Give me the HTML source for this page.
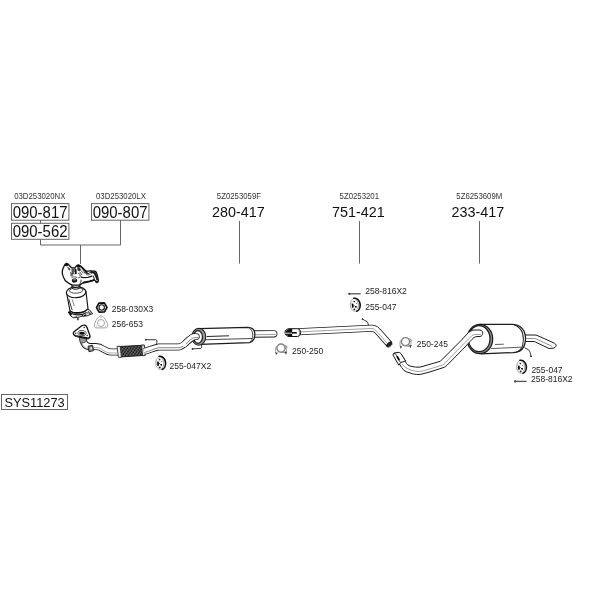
<!DOCTYPE html>
<html><head><meta charset="utf-8">
<style>
html,body{margin:0;padding:0;background:#fff;}
svg{display:block;filter:grayscale(1);}
text{font-family:"Liberation Sans",sans-serif;fill:#1a1a1a;}
.s{font-size:8.5px;fill:#333;}
.b{font-size:15.4px;fill:#111;}
.m{font-size:8.5px;fill:#222;}
.ln{stroke:#666;stroke-width:1;fill:none;}
.bx{stroke:#666;stroke-width:1;fill:#fff;}
.p{stroke:#222;stroke-width:1;fill:#fff;stroke-linejoin:round;stroke-linecap:round;}
.pn{stroke:#222;stroke-width:0.8;fill:none;stroke-linejoin:round;stroke-linecap:round;}
</style></head><body>
<svg width="600" height="600" viewBox="0 0 600 600">
<rect width="600" height="600" fill="#fff"/>
<!-- LABELS-TOP -->
<text class="s" textLength="51.2" lengthAdjust="spacingAndGlyphs" x="14.2" y="198.7">03D253020NX</text>
<text class="s" textLength="49.9" lengthAdjust="spacingAndGlyphs" x="96" y="198.7">03D253020LX</text>
<text class="s" textLength="44.2" lengthAdjust="spacingAndGlyphs" x="216.8" y="198.7">5Z0253059F</text>
<text class="s" textLength="39.4" lengthAdjust="spacingAndGlyphs" x="339.6" y="198.7">5Z0253201</text>
<text class="s" textLength="45.9" lengthAdjust="spacingAndGlyphs" x="456.3" y="198.7">5Z6253609M</text>
<rect class="bx" x="11.5" y="203.6" width="57.4" height="16.6"/>
<rect class="bx" x="11.5" y="223.3" width="57.4" height="16"/>
<rect class="bx" x="91.5" y="203.6" width="57.4" height="16.6"/>
<text class="b" style="font-size:16px" textLength="54.8" lengthAdjust="spacingAndGlyphs" x="12.7" y="217.5">090-817</text>
<text class="b" style="font-size:16px" textLength="54.8" lengthAdjust="spacingAndGlyphs" x="12.7" y="236.9">090-562</text>
<text class="b" style="font-size:16px" textLength="54.8" lengthAdjust="spacingAndGlyphs" x="92.7" y="217.5">090-807</text>
<text class="b" textLength="52.7" lengthAdjust="spacingAndGlyphs" x="212" y="217.3">280-417</text>
<text class="b" textLength="52.7" lengthAdjust="spacingAndGlyphs" x="332" y="217.3">751-421</text>
<text class="b" textLength="52.7" lengthAdjust="spacingAndGlyphs" x="451.5" y="217.3">233-417</text>
<path class="ln" d="M40.5 220V223.5M40.5 239.3V245H120.5V220M80.5 245V264"/>
<path class="ln" d="M239.5 221V263.6M359.5 221V263.6M479.5 221V263.6"/>
<!-- LABELS-SMALL -->
<text class="m" x="111.7" y="312.3">258-030X3</text>
<text class="m" x="111.7" y="327">256-653</text>
<text class="m" x="169.6" y="368.8">255-047X2</text>
<text class="m" x="292" y="354.2">250-250</text>
<text class="m" x="365.2" y="293.8">258-816X2</text>
<text class="m" x="365.2" y="310.2">255-047</text>
<text class="m" x="416.7" y="346.9">250-245</text>
<text class="m" x="531.4" y="372.8">255-047</text>
<text class="m" x="531" y="381.5">258-816X2</text>
<rect class="bx" x="1.5" y="394.5" width="66" height="15"/>
<text x="4.4" y="406.5" style="font-size:12.8px;fill:#111">SYS11273</text>

<defs>
<g id="hanger">
  <ellipse cx="0" cy="0" rx="5" ry="6.7" fill="#fff" stroke="#8a8a8a" stroke-width="0.6"/>
  <path d="M-1.4 -6.5C2.6 -7 4.9 -3 5 0C5.1 3 3.6 6 1.6 6.5" fill="none" stroke="#111" stroke-width="1.6" stroke-linecap="round"/>
  <path d="M1.4 -4.6C2.8 -3 3.2 -1 3.2 0.6C3.2 2.4 2.8 3.8 2 4.8" fill="none" stroke="#555" stroke-width="0.55"/>
  <path d="M-3.8 -3C-4.4 -1 -4.4 1.6 -3.8 3.6" fill="none" stroke="#999" stroke-width="0.5"/>
  <path d="M-3.5 -1.4L-1.8 -1.1L-1.5 2.6L-3.2 3Z" fill="#000"/>
  <path d="M-1.7 0.2L-0.4 0.9L-1.7 1.4Z" fill="#111"/>
  <path d="M-0.5 1.3L1.5 1.2L1.4 2.9L0 2.7Z" fill="#000"/>
  <circle cx="-1" cy="-3.3" r="0.85" fill="#222"/>
  <circle cx="-0.8" cy="4.6" r="0.9" fill="#111"/>
  <circle cx="1.2" cy="-1.3" r="0.5" fill="#333"/>
  <path d="M-2.6 -4.6L-1.8 -4M-2.8 4.4L-2 4" stroke="#777" stroke-width="0.5"/>
</g>
<g id="clamp">
  <circle cx="0" cy="0" r="4.1" fill="none" stroke="#8c8c8c" stroke-width="1.4"/>
  <circle cx="0" cy="0" r="4.1" fill="none" stroke="#666" stroke-width="0.5" stroke-dasharray="1.2 1.4"/>
  <circle cx="5" cy="-1.3" r="1" fill="#fff" stroke="#666" stroke-width="0.7"/>
  <path d="M4 -3.4C5.2 -2.6 6 -0.6 5.6 2L5 3.6" fill="none" stroke="#999" stroke-width="0.8"/>
  <path d="M-4.6 -1.6C-5.8 0.2 -5.8 2.6 -5 5" fill="none" stroke="#999" stroke-width="0.9"/>
  <path d="M-3 3.6L-4.6 5.6" stroke="#aaa" stroke-width="0.7"/>
  <path d="M-5.9 4.2L-3.4 4.8L-4.8 7Z" fill="#444"/>
  <path d="M3.6 3.6L6.2 3.4L5 6.6Z" fill="#333"/>
  <path d="M1 3.8L4 4.6" stroke="#888" stroke-width="1.3"/>
</g>
<g id="bolt">
  <circle cx="0" cy="0" r="1.15" fill="#2a2a2a"/>
  <path d="M0 0H11.4" stroke="#555" stroke-width="1.3"/>
</g>
<pattern id="hatch" width="2.4" height="2.4" patternUnits="userSpaceOnUse" patternTransform="rotate(35)">
  <rect width="2.4" height="2.4" fill="#3a3a3a"/>
  <path d="M0 0H2.4M0 1.2H2.4" stroke="#111" stroke-width="0.8"/>
  <path d="M0.6 0V2.4" stroke="#bbb" stroke-width="0.45"/>
</pattern>
</defs>

<!-- FRONT PIPE -->
<g id="frontpipe">
  <!-- pipe from flange to flex -->
  <path d="M82.8 337C83 342 84.5 346.4 90 346.6H96C100 346.6 102 348.2 104.5 349.8C107 351.4 108.5 352 111 352H118" fill="none" stroke="#1c1c1c" stroke-width="7" stroke-linejoin="round"/>
  <path d="M82.8 337C83 342 84.5 346.4 90 346.6H96C100 346.6 102 348.2 104.5 349.8C107 351.4 108.5 352 111 352H118" fill="none" stroke="#fff" stroke-width="5.3" stroke-linejoin="round"/>
  <path d="M94 347.6H96C99.6 347.6 101.6 349.2 104 350.8C106.6 352.4 108.2 353 111 353H117" fill="none" stroke="#777" stroke-width="0.6"/>
  <path d="M81 341C82 345 84 348 88 349" fill="none" stroke="#777" stroke-width="0.6"/>
  <!-- neck under flange -->
  <path d="M79.4 337.6L80.2 342.6C82 343.4 84.6 342.8 86.4 341.2L86.2 337Z" fill="#999" stroke="#222" stroke-width="0.7"/>
  <!-- bracket on pipe -->
  <path d="M88 346.2L92.6 345.2L93.6 350.6L89 351.8Z" fill="#777" stroke="#1c1c1c" stroke-width="0.9" stroke-linejoin="round"/>
  <path d="M90 347.4L91.8 347L92.2 349.4L90.4 349.8Z" fill="#ddd"/>
  <!-- flange -->
  <path d="M84 325.2C85.5 325.1 86.6 326.3 87.2 327.9L89.8 335.2C90.4 337.2 89.2 338.4 87.2 338L75.6 335.6C73.4 335 72.6 333.4 74 331.8L81.4 326.1C82.2 325.5 83 325.2 84 325.2Z" fill="#fff" stroke="#111" stroke-width="1.3" stroke-linejoin="round"/>
  <path d="M73.4 333.6C73.6 335.4 74.6 336.2 76 336.6L87 338.9C89 339.2 90.2 338.2 90 336.4" fill="none" stroke="#111" stroke-width="0.9"/>
  <ellipse cx="82" cy="333" rx="4.1" ry="2.6" fill="#fff" stroke="#222" stroke-width="0.7" transform="rotate(8 82 333)"/>
  <ellipse cx="82" cy="333.3" rx="2.9" ry="1.5" fill="#111" transform="rotate(6 82 333.3)"/>
  <circle cx="84.2" cy="327.6" r="0.75" fill="#222"/>
  <circle cx="75.7" cy="333.3" r="0.75" fill="#222"/>
  <circle cx="87.2" cy="335.6" r="0.75" fill="#222"/>
  <!-- flex -->
  <path d="M118.4 346.6L143.6 345.2L144.4 355.4L119.8 357Z" fill="url(#hatch)" stroke="#111" stroke-width="0.9"/>
  <path d="M117 346.4L120.2 346.2L121.4 357.2L118.4 357.4Z" fill="#eee" stroke="#222" stroke-width="0.8"/>
  <path d="M141.6 345.2L144.4 345L145.4 355.4L142.6 355.8Z" fill="#ddd" stroke="#222" stroke-width="0.8"/>
  <!-- pipe from flex to muffler -->
  <path d="M144 351.4C149 350.4 153 348 158.5 347H178.5C182 346.9 184.5 344 188 340.8C191 338 193 336.8 196 336.6H200" fill="none" stroke="#1c1c1c" stroke-width="6.9"/>
  <path d="M144 351.4C149 350.4 153 348 158.5 347H178.5C182 346.9 184.5 344 188 340.8C191 338 193 336.8 196 336.6H200" fill="none" stroke="#fff" stroke-width="5.3"/>
  <path d="M144.6 352.4C149.6 351.4 153.6 348.7 158.8 347.7H178.9C182.4 347.6 185 344.8 188.5 341.6C191.4 338.9 193.2 337.8 196.2 337.6" fill="none" stroke="#555" stroke-width="0.7"/>
  <!-- hooks -->
  <path d="M145.8 339.7H155.6C157.4 339.9 157.2 341.6 156.3 343.9" fill="none" stroke="#222" stroke-width="0.9"/>
  <circle cx="145.8" cy="339.7" r="0.85" fill="#222"/>
  <path d="M192.5 348.9L200.8 348.4C201.6 348.2 201.7 346.6 201.6 344.9" fill="none" stroke="#222" stroke-width="0.9"/>
  <circle cx="192.5" cy="348.9" r="0.85" fill="#222"/>
</g>

<!-- FRONT MUFFLER -->
<g id="frontmuffler">
  <path d="M254 334L273.8 333.8" stroke="#1c1c1c" stroke-width="7.3" stroke-linecap="round" fill="none"/>
  <path d="M254 334L273.8 333.8" stroke="#fff" stroke-width="5.6" stroke-linecap="round" fill="none"/>
  <path d="M255 334.7L275.4 334.5" stroke="#666" stroke-width="0.65" fill="none"/>
  <path d="M199 328.7L247.5 327.3C251.5 327.3 254.4 329.4 254.8 333C255.2 337.4 253.6 342 249.6 342.7L200 344.4Z" fill="#fff" stroke="#1c1c1c" stroke-width="1.2" stroke-linejoin="round"/>
  <path d="M206.8 336.5L229 335.8" stroke="#222" stroke-width="1"/>
  <path d="M205.6 339.7L252.4 338.5" stroke="#333" stroke-width="0.9"/>
  <path d="M248.6 327.4C251.4 329 252.8 332 252.8 335C252.8 338.4 251.6 341.2 249.6 342.4" fill="none" stroke="#333" stroke-width="0.9"/>
  <ellipse cx="198.8" cy="336.8" rx="7" ry="8.4" fill="#9a9a9a" stroke="#1c1c1c" stroke-width="1.1"/>
  <ellipse cx="198" cy="337" rx="4.5" ry="6.3" fill="#fff" stroke="#1c1c1c" stroke-width="1.2"/>
</g>
<!-- pipe end entering front muffler drawn over ring -->
<path d="M186 342.6C188 340.8 191 338 193 336.9C194 336.7 195 336.6 196.3 336.6" fill="none" stroke="#1c1c1c" stroke-width="6.9" stroke-linecap="round"/>
<path d="M184.5 344C187 341.6 191 338 193 336.9C194 336.7 195 336.6 196.3 336.6" fill="none" stroke="#fff" stroke-width="5.3" stroke-linecap="round"/>
<path d="M186 343.8C189 341 191.4 338.9 193.2 337.8L198.6 337.6" fill="none" stroke="#555" stroke-width="0.7"/>

<!-- MID PIPE -->
<g id="midpipe">
  <path d="M298 331.7L340 329.7L371 328.2C374.5 328 376 329 378 331.4L389.6 344.6" fill="none" stroke="#1c1c1c" stroke-width="7" stroke-linejoin="round"/>
  <path d="M298 331.7L340 329.7L371 328.2C374.5 328 376 329 378 331.4L390.6 345.8" fill="none" stroke="#fff" stroke-width="5.4" stroke-linejoin="round"/>
  <path d="M301 331.8L340 329.9L371 328.5C373.8 328.4 375.2 329.4 377 331.6L387.4 343.6" fill="none" stroke="#666" stroke-width="0.6"/>
  <ellipse cx="389.3" cy="344.3" rx="3.1" ry="1.7" fill="#222" stroke="#111" stroke-width="0.8" transform="rotate(-40 389.3 344.3)"/>
  <path d="M387.2 347.4C389 348 391.6 346.4 392.4 344" fill="none" stroke="#555" stroke-width="0.6"/>
  <!-- slotted end -->
  <path d="M289 328.7H297.6C299.6 329 300.6 330.4 300.6 332.6C300.6 334.8 299.6 336.2 297.6 336.5H289C286.4 336.2 285 334.6 285 332.6C285 330.6 286.4 329 289 328.7Z" fill="#fff" stroke="#111" stroke-width="1" />
  <path d="M289 328.9H292.2V336.3H289C286.6 336 285.3 334.6 285.3 332.6C285.3 330.6 286.6 329.2 289 328.9Z" fill="#111"/>
  <path d="M285 333.2H292.2" stroke="#fff" stroke-width="0.9"/>
  <path d="M286.2 330.8L287.4 330M286.4 335L287.6 335.4" stroke="#ccc" stroke-width="0.6"/>
  <path d="M292 332.8H296.8" stroke="#000" stroke-width="1.5"/>
  <path d="M298.6 329.2C299.8 330.6 299.8 334.6 298.6 336" stroke="#555" stroke-width="0.8" fill="none"/>
  <!-- hook -->
  <path d="M362.5 319L364.8 320.5L367 321.5C367.8 322.4 368.2 323.6 368.5 325.4" fill="none" stroke="#222" stroke-width="0.9"/>
  <circle cx="362.5" cy="319" r="0.85" fill="#222"/>
</g>

<!-- REAR MUFFLER -->
<g id="rearmuffler">
  <!-- tail pipe -->
  <path d="M525 335H535C535.8 335 536.4 335.2 537 335.4L553 342.5C555 343.4 556.5 344.4 556.1 345.7C555.7 347.1 554.5 348 553 348.2L549 348.5L535.4 342C534.6 341.6 534 341.5 533 341.5H525Z" fill="#fff" stroke="#1c1c1c" stroke-width="1" stroke-linejoin="round"/>
  <path d="M526.5 338.5H534.6C535.2 338.5 535.8 338.7 536.4 339L552 346.4" fill="none" stroke="#555" stroke-width="0.65"/>
  <!-- body -->
  <path d="M480 324.3L513 324.4C519 324.8 522.6 328 524.2 331.6C525.6 335 525.8 340 524.8 344C523.8 348 521 351.2 516.6 352.2L513 352.6L481 353.8Z" fill="#fff" stroke="#1c1c1c" stroke-width="1.25" stroke-linejoin="round"/>
  <path d="M514 324.8C518.4 326.2 521 329 522.6 333C523.6 337 523.6 342 522.6 345.6C521.6 349 519.4 351 516 352.2" fill="none" stroke="#222" stroke-width="1.1"/>
  <path d="M495 344.5L503.7 344.2" stroke="#333" stroke-width="0.8"/>
  <path d="M490.8 348.6L521 347.2" stroke="#333" stroke-width="0.8"/>
  <ellipse cx="479.9" cy="339" rx="12.8" ry="14.7" fill="#8a8a8a" stroke="#1c1c1c" stroke-width="1.2"/>
  <ellipse cx="479.2" cy="338.7" rx="10.8" ry="13" fill="#fff" stroke="#1c1c1c" stroke-width="1.2"/>
  <!-- hook -->
  <path d="M524.5 347.6L528.6 349.8C530 351 530.4 353.4 531 356.2" fill="none" stroke="#222" stroke-width="0.9"/>
  <circle cx="531" cy="356.3" r="0.9" fill="#222"/>
</g>

<!-- REAR PIPE -->
<g id="rearpipe">
  <path d="M401 354L405.5 361.5C406.2 363.2 407 364.4 408 365C409.2 365.8 410.6 366.2 412 366.5C414.4 367 416.8 367.3 419 367.2C421 367 423 366.4 425 365.7L440.3 361.3L461.3 340.3L467 334C468 332.8 469 332 470 331.5C471.4 330.6 472.6 330.1 474 330H480C482 330.2 482.8 331.8 482.7 333.2C482.6 334.8 481.8 336.3 480 336.5H477C476 336.6 475 337 474 337.5C472.6 338.6 471.4 340 470 341.5L465 347L447 365.3C446.2 366.2 445.4 366.8 444.3 367.3L428 372.5L425 373.2C423 373.9 421 374.4 419 374.5C416 374.6 413 374.1 410 373C407.8 372.4 405.8 371.6 404 370.5C402.2 368.6 400.8 366.4 399.5 364L396 358Z" fill="#fff" stroke="#1c1c1c" stroke-width="1" stroke-linejoin="round"/>
  <path d="M402 364C403.6 366 405.4 367.6 407.5 368.5C411 370.4 415 371.4 419 371.5C422 371.4 425 370.4 428 369.5L442.7 365L444.3 363.7L465 342.7L472 335.5C473 334.9 474 334.6 475 334.5H481" fill="none" stroke="#666" stroke-width="0.6"/>
  <!-- slotted end -->
  <path d="M393.1 355.2C392.7 353.8 394.4 352.7 395.8 352.7L398.8 352.4C399.9 352.4 400.6 353 401.2 354L405.6 361L400.6 362.6L398.8 365.2Z" fill="#fff" stroke="#111" stroke-width="1" stroke-linejoin="round"/>
  <path d="M395.2 353.4L400.4 362.4" stroke="#111" stroke-width="0.8" fill="none"/>
  <path d="M397 356.2L399.2 360" stroke="#000" stroke-width="1.7" fill="none"/>
  <path d="M393.6 354L394.8 353.2" stroke="#111" stroke-width="1.2" fill="none"/>
</g>

<!-- ICONS -->
<use href="#hanger" x="160.6" y="362.9"/>
<use href="#hanger" x="355.2" y="304.8"/>
<use href="#hanger" x="521.4" y="366.8"/>
<use href="#clamp" x="281" y="348.1"/>
<use href="#clamp" x="405.5" y="341.7"/>
<use href="#bolt" x="349.3" y="293.8"/>
<use href="#bolt" x="515.2" y="381.4"/>

<!-- NUT -->
<g id="nut">
  <path d="M96.5 307.6L98.9 303.1L104.3 302.9L107 307.4L104.5 311.9L99.1 312.1Z" fill="#fff" stroke="#111" stroke-width="1.7" stroke-linejoin="round"/>
  <circle cx="101.7" cy="307.5" r="2.7" fill="#fff" stroke="#111" stroke-width="1.1"/>
</g>
<!-- GASKET -->
<g id="gasket">
  <path d="M101 315.8C103.6 315.8 107.2 321.6 107.7 325C108 327 107 327.9 105 327.9H97C95 327.9 94 327 94.3 325C94.8 321.6 98.4 315.8 101 315.8Z" fill="#fff" stroke="#8c8c8c" stroke-width="0.8"/>
  <circle cx="101" cy="323" r="3.5" fill="#fff" stroke="#8c8c8c" stroke-width="0.8"/>
  <circle cx="101" cy="317.6" r="0.55" fill="#999"/><circle cx="96.2" cy="326" r="0.55" fill="#999"/><circle cx="105.8" cy="326" r="0.55" fill="#999"/>
</g>
<!-- MANIFOLD-CAT -->
<g id="manifold">
  <!-- cat body -->
  <path d="M66.4 292L70 310.8C72 313.6 84 313.4 88 308.8L85.9 291Z" fill="#fff" stroke="#111" stroke-width="1.1" stroke-linejoin="round"/>
  <path d="M68.6 298.6L72.2 310.2" stroke="#222" stroke-width="0.9" fill="none"/>
  <path d="M72.2 299.4L74.3 306" stroke="#555" stroke-width="0.7" fill="none"/>
  <path d="M70 311C73 314.6 84 314.2 88 309" stroke="#111" stroke-width="1.6" fill="none"/>
  <!-- top of cat -->
  <ellipse cx="76.1" cy="292.3" rx="9.8" ry="5.4" fill="#fff" stroke="#111" stroke-width="1.15" transform="rotate(-3 76.1 292.3)"/>
  <ellipse cx="76.2" cy="290.5" rx="6.7" ry="2.7" fill="#fff" stroke="#222" stroke-width="0.8" transform="rotate(-3 76.2 290.5)"/>
  <!-- neck -->
  <path d="M71.6 284L72.2 288.4C74 289.6 78 289.4 79.8 288L80 283.6Z" fill="#fff" stroke="#111" stroke-width="1"/>
  <path d="M72 286.6C74 287.8 78 287.6 79.8 286.4" stroke="#111" stroke-width="1.3" fill="none"/>
  <!-- bottom flange of cat -->
  <path d="M68.3 312L70.7 316L73.3 317.7L77.7 317.4L82 316.2L86.7 316L92.7 313.7L89.4 309.8L88 309.2C84 314.2 73 314.6 70 311Z" fill="#fff" stroke="#111" stroke-width="0.9" stroke-linejoin="round"/>
  <path d="M68.3 312L70.2 311.6L72 313.4L71.4 315.8L70.5 315.8Z" fill="#111"/>
  <path d="M72 313.6C75 315.6 82 315.4 86.6 312.4" stroke="#111" stroke-width="1.2" fill="none"/>
  <ellipse cx="85.3" cy="315.2" rx="1.6" ry="0.8" fill="#111" transform="rotate(-12 85.3 315.2)"/>
  <path d="M81.6 315.2L83.4 316" stroke="#111" stroke-width="0.9"/>
  <path d="M88.6 310.6L87.6 313.8M90.2 311.2L89.4 314.6M87.4 312.8L91.6 313.4" stroke="#222" stroke-width="0.7" fill="none"/>
  <path d="M73.4 317.4L77 316.4" stroke="#444" stroke-width="0.7" fill="none"/>
  <path d="M77.8 317.6L78 320.2" stroke="#111" stroke-width="1.3"/>
  <!-- manifold body -->
  <path d="M64.6 265C65 263.4 67 263 68.2 264.2L71 267.3C72.4 268 73.8 268.2 74.9 267.8L76.4 266C77.4 265 78.6 264.8 79.6 265.3L82.2 267.5L85.9 271.1C87.4 271.3 89 271 90.3 270.8L95 271.2C96.2 271.6 96.8 273.2 97.2 274.9L98.4 280.2C98.4 281.8 97.4 282.6 96.4 282.4L94.7 280.2L89.5 281.6L82.9 283L79.4 285.1H72.6C70 284.2 67.4 282.6 65.4 280.8C63.8 278.4 62.8 276.4 62.4 274C62.2 272.4 62.3 271 62.6 269.6Z" fill="#fff" stroke="#111" stroke-width="1.3" stroke-linejoin="round"/>
  <!-- bolts -->
  <ellipse cx="66.5" cy="264.8" rx="1.7" ry="1.5" fill="#111"/>
  <ellipse cx="78.6" cy="266.3" rx="1.7" ry="1.3" fill="#111"/>
  <circle cx="96.9" cy="282" r="1.2" fill="#222"/>
  <!-- upper dark details -->
  <path d="M67 266.6L69.2 267.8L70.6 270L69 270.4Z" fill="#333"/>
  <path d="M71.4 268.2L74.2 268.6L74.8 271.4L73.2 273.6L71.6 272.4Z" fill="#555"/>
  <path d="M74.6 268.4L76.4 269L76.8 273.8L75 274.2Z" fill="#111"/>
  <path d="M70.2 273.6L72.8 273.8L73 276.2L70.6 276.4Z" fill="#666"/>
  <path d="M70 272.8L74.6 274" stroke="#222" stroke-width="0.9"/>
  <path d="M77 267.6L79.4 267.2L81 269.4L79.6 271.6L77.6 270.4Z" fill="#333"/>
  <path d="M80 266L82.2 267.8L87.4 272.8" stroke="#111" stroke-width="1.6" fill="none"/>
  <path d="M80.6 270.2L83.4 273.2M82.6 269.8L85.4 273M79.8 272L82 275" stroke="#222" stroke-width="0.8" fill="none"/>
  <path d="M84 272.6L88 273.8L90.4 272.4L92 273.4" stroke="#222" stroke-width="1" fill="none"/>
  <path d="M86 274.4L88 275L90.6 274.2" stroke="#444" stroke-width="0.8" fill="none"/>
  <!-- runner white band -->
  <path d="M80.8 277.2L84 277.6L88 277.4L92.4 275.8" stroke="#111" stroke-width="1.3" fill="none"/>
  <path d="M77.8 273.4C79.4 273 80.2 274.4 80.2 276C80.2 277.4 79.4 278 78.2 277.8" stroke="#222" stroke-width="0.8" fill="none"/>
  <!-- right end dark -->
  <path d="M90.4 271L95 271.4L96.8 275L98.2 280.2L96.6 280.4L95.2 276.6L93.6 273.6L90.6 273Z" fill="#1a1a1a"/>
  <path d="M93.6 275.2L95 279.6L94 280.2L92.8 276.2Z" fill="#333"/>
  <!-- lower curve -->
  <path d="M79.2 284.8C80.6 283.4 81.2 281.6 81 279.6" fill="none" stroke="#222" stroke-width="0.9"/>
  <path d="M82.8 282.6L89.4 281.2L94.6 279.8" stroke="#111" stroke-width="1.5" fill="none"/>
  <!-- O2 sensor -->
  <ellipse cx="74.5" cy="280.5" rx="2.7" ry="2.1" fill="#111" transform="rotate(-10 74.5 280.5)"/>
  <ellipse cx="74.4" cy="279.7" rx="1.6" ry="0.8" fill="#888" transform="rotate(-10 74.4 279.7)"/>
  <path d="M71.6 277.6C73.2 276.6 76 276.6 77.4 277.8" fill="none" stroke="#333" stroke-width="0.8"/>
</g>


</svg>
</body></html>
